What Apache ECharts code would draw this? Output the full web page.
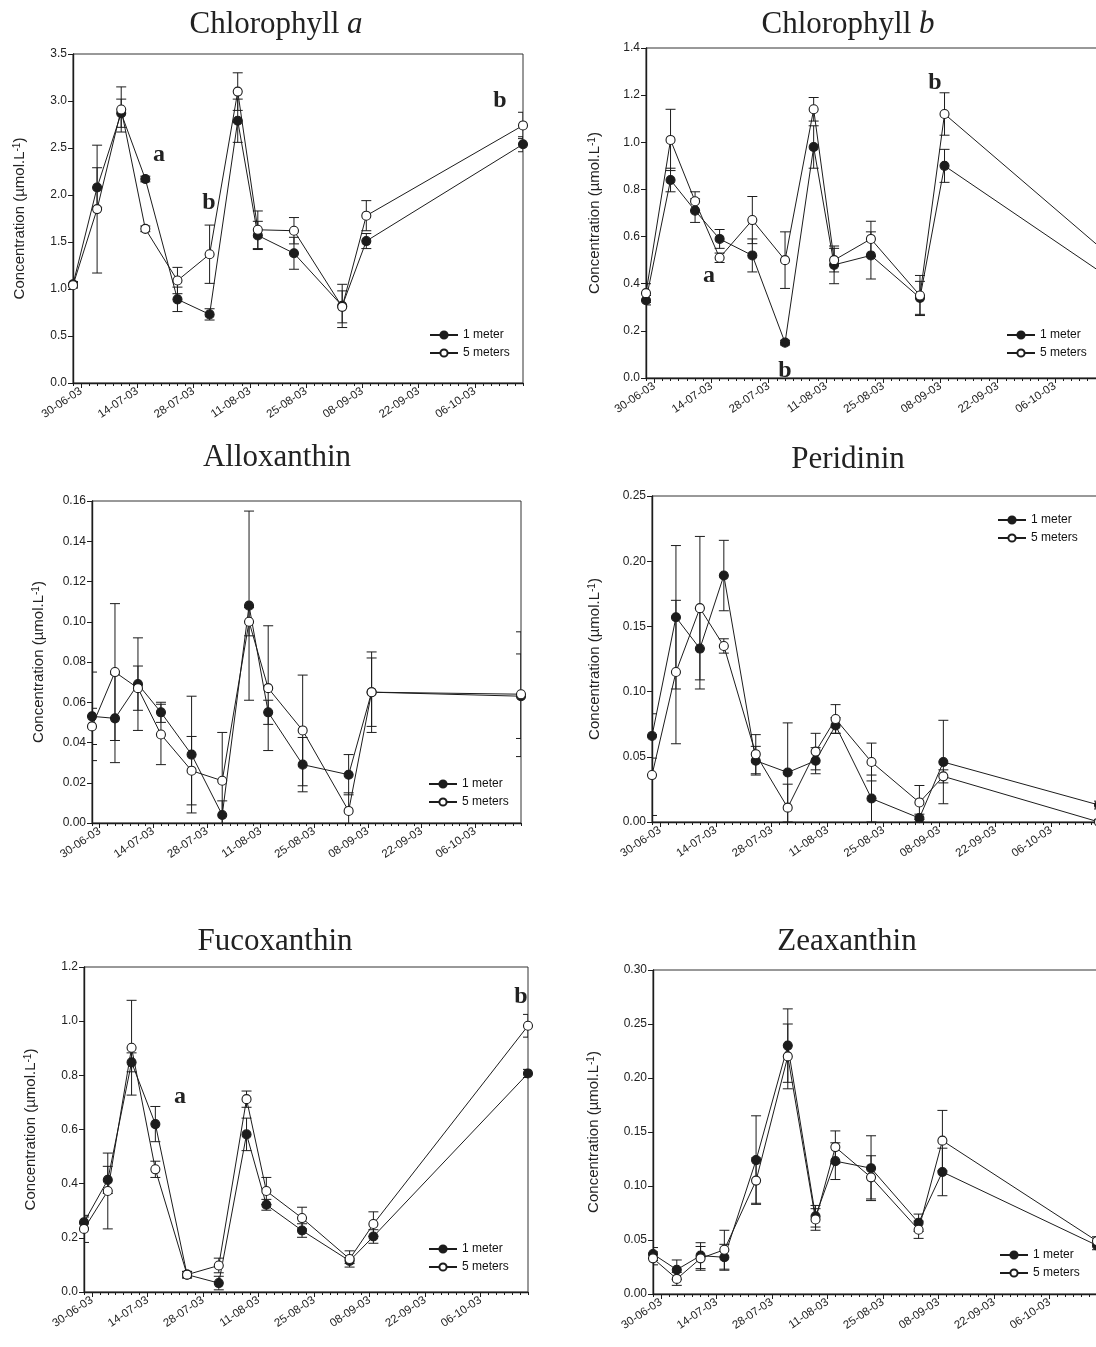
<!DOCTYPE html>
<html>
<head>
<meta charset="utf-8">
<title>Pigment concentrations, 2003</title>
<script src="https://cdn.jsdelivr.net/npm/echarts@6/dist/echarts.min.js"></script>
<style>
  html, body { margin: 0; padding: 0; background: #fff; overflow: hidden; }
  #chart { width: 1096px; height: 1347px; }
</style>
</head>
<body>
<div id="chart"></div>
<script>
// Sampling dates (dd-mm-yy on the axis)
const dates = ['2003-06-28', '2003-07-04', '2003-07-10', '2003-07-16', '2003-07-24', '2003-08-01',
               '2003-08-08', '2003-08-13', '2003-08-22', '2003-09-03', '2003-09-09', '2003-10-18'];
const tickDates = ['2003-06-30', '2003-07-14', '2003-07-28', '2003-08-11', '2003-08-25',
                   '2003-09-08', '2003-09-22', '2003-10-06'];
const axisStart = '2003-06-28';
const axisEnd = '2003-10-18';
const seriesNames = ['1 meter', '5 meters'];

// Chlorophyll a (µmol/L), mean and error
const chlA_1m    = [1.05, 2.08, 2.87, 2.17, 0.89, 0.73, 2.79, 1.57, 1.38, 0.82, 1.51, 2.54];
const chlA_1m_sd = [0.03, 0.21, 0.15, 0.03, 0.13, 0.06, 0.23, 0.15, 0.17, 0.23, 0.08, 0.08];
const chlA_5m    = [1.04, 1.85, 2.91, 1.64, 1.09, 1.37, 3.10, 1.63, 1.62, 0.81, 1.78, 2.74];
const chlA_5m_sd = [0.03, 0.68, 0.24, 0.03, 0.14, 0.31, 0.20, 0.20, 0.14, 0.17, 0.16, 0.14];

// Chlorophyll b
const chlB_1m    = [0.33, 0.84, 0.71, 0.59, 0.52, 0.15, 0.98, 0.48, 0.52, 0.34, 0.90, 0.44];
const chlB_1m_sd = [0.02, 0.05, 0.05, 0.04, 0.07, 0.01, 0.09, 0.08, 0.10, 0.07, 0.07, 0.03];
const chlB_5m    = [0.36, 1.01, 0.75, 0.51, 0.67, 0.50, 1.14, 0.50, 0.59, 0.35, 1.12, 0.54];
const chlB_5m_sd = [0.04, 0.13, 0.04, 0.02, 0.10, 0.12, 0.05, 0.05, 0.075, 0.085, 0.09, 0.03];

// Alloxanthin
const allo_1m    = [0.053, 0.052, 0.069, 0.055, 0.034, 0.004, 0.108, 0.055, 0.029, 0.024, 0.065, 0.063];
const allo_1m_sd = [0.022, 0.022, 0.023, 0.005, 0.029, 0.007, 0.047, 0.006, 0.0135, 0.010, 0.017, 0.021];
const allo_5m    = [0.048, 0.075, 0.067, 0.044, 0.026, 0.021, 0.100, 0.067, 0.046, 0.006, 0.065, 0.064];
const allo_5m_sd = [0.009, 0.034, 0.011, 0.015, 0.017, 0.024, 0.007, 0.031, 0.0275, 0.009, 0.020, 0.031];

// Peridinin
const peri_1m    = [0.066, 0.157, 0.133, 0.189, 0.047, 0.038, 0.047, 0.074, 0.018, 0.003, 0.046, 0.013];
const peri_1m_sd = [0.017, 0.055, 0.031, 0.027, 0.011, 0.038, 0.010, 0.006, 0.018, 0.003, 0.032, 0.003];
const peri_5m    = [0.036, 0.115, 0.164, 0.135, 0.052, 0.011, 0.054, 0.079, 0.046, 0.015, 0.035, 0.000];
const peri_5m_sd = [0.031, 0.055, 0.055, 0.0055, 0.015, 0.018, 0.014, 0.011, 0.0145, 0.013, 0.005, 0.002];

// Fucoxanthin
const fuco_1m    = [0.257, 0.414, 0.848, 0.620, 0.064, 0.033, 0.582, 0.322, 0.227, 0.115, 0.205, 0.807];
const fuco_1m_sd = [0.020, 0.050, 0.035, 0.065, 0.012, 0.025, 0.060, 0.020, 0.025, 0.010, 0.025, 0.015];
const fuco_5m    = [0.233, 0.373, 0.902, 0.453, 0.064, 0.098, 0.712, 0.373, 0.273, 0.122, 0.251, 0.983];
const fuco_5m_sd = [0.050, 0.140, 0.175, 0.030, 0.012, 0.027, 0.030, 0.050, 0.040, 0.030, 0.045, 0.042];

// Zeaxanthin
const zea_1m    = [0.037, 0.0225, 0.0355, 0.034, 0.124, 0.230, 0.072, 0.123, 0.1165, 0.066, 0.113, 0.045];
const zea_1m_sd = [0.006, 0.009, 0.012, 0.012, 0.041, 0.034, 0.010, 0.017, 0.030, 0.008, 0.022, 0.004];
const zea_5m    = [0.033, 0.014, 0.033, 0.041, 0.105, 0.220, 0.069, 0.136, 0.108, 0.0595, 0.142, 0.049];
const zea_5m_sd = [0.006, 0.006, 0.011, 0.018, 0.021, 0.030, 0.010, 0.015, 0.020, 0.008, 0.028, 0.004];

// Panel layout (pixel boxes, title and legend anchors)
const panels = [
  { title: 'Chlorophyll {i|a}', one: chlA_1m, oneSd: chlA_1m_sd, five: chlA_5m, fiveSd: chlA_5m_sd,
    yMax: 3.5, yStep: 0.5, dec: 1, box: { left: 73, top: 54, width: 450, height: 329 },
    titleAt: [276, 25], nameGap: 46, legendAt: [429, 329] },
  { title: 'Chlorophyll {i|b}', one: chlB_1m, oneSd: chlB_1m_sd, five: chlB_5m, fiveSd: chlB_5m_sd,
    yMax: 1.4, yStep: 0.2, dec: 1, box: { left: 646, top: 48, width: 458, height: 330 },
    titleAt: [848, 25], nameGap: 44, legendAt: [1006, 329] },
  { title: 'Alloxanthin', one: allo_1m, oneSd: allo_1m_sd, five: allo_5m, fiveSd: allo_5m_sd,
    yMax: 0.16, yStep: 0.02, dec: 2, box: { left: 92, top: 501, width: 429, height: 322 },
    titleAt: [277, 458], nameGap: 46, legendAt: [428, 778] },
  { title: 'Peridinin', one: peri_1m, oneSd: peri_1m_sd, five: peri_5m, fiveSd: peri_5m_sd,
    yMax: 0.25, yStep: 0.05, dec: 2, box: { left: 652, top: 496, width: 447, height: 326 },
    titleAt: [848, 460], nameGap: 50, legendAt: [997, 514] },
  { title: 'Fucoxanthin', one: fuco_1m, oneSd: fuco_1m_sd, five: fuco_5m, fiveSd: fuco_5m_sd,
    yMax: 1.2, yStep: 0.2, dec: 1, box: { left: 84, top: 967, width: 444, height: 325 },
    titleAt: [275, 942], nameGap: 46, legendAt: [428, 1243] },
  { title: 'Zeaxanthin', one: zea_1m, oneSd: zea_1m_sd, five: zea_5m, fiveSd: zea_5m_sd,
    yMax: 0.30, yStep: 0.05, dec: 2, box: { left: 653, top: 970, width: 444, height: 324 },
    titleAt: [847, 942], nameGap: 52, legendAt: [999, 1249] }
];

// Significance letters
const letters = [
  { text: 'a', at: [159, 155] }, { text: 'b', at: [209, 203] }, { text: 'b', at: [500, 101] },
  { text: 'a', at: [709, 276] }, { text: 'b', at: [935, 83] }, { text: 'b', at: [785, 371] },
  { text: 'a', at: [180, 1097] }, { text: 'b', at: [521, 997] }
];

const DAY = 86400000;
function ts(s) { const p = s.split('-').map(Number); return Date.UTC(p[0], p[1] - 1, p[2]); }
function fmtDate(v) {
  const d = new Date(v);
  const dd = String(d.getUTCDate()).padStart(2, '0');
  const mm = String(d.getUTCMonth() + 1).padStart(2, '0');
  const yy = String(d.getUTCFullYear()).slice(2);
  return dd + '-' + mm + '-' + yy;
}
const xMin = ts(axisStart), xMax = ts(axisEnd);
const majorTicks = tickDates.map(ts);
const minorTicks = [];
for (let t = xMin; t <= xMax; t += 2 * DAY) minorTicks.push(t);

const INK = '#1c1c1c';
const SANS = 'Liberation Sans, Arial, sans-serif';
const SERIF = 'Liberation Serif, Times New Roman, serif';

function errorBars(params, api) {
  const x = api.value(0), y = api.value(1), e = api.value(2);
  const hi = api.coord([x, y + e]);
  const lo = api.coord([x, y - e]);
  const hw = 5;
  const st = { stroke: INK, lineWidth: 1, fill: null };
  return {
    type: 'group',
    children: [
      { type: 'line', shape: { x1: hi[0], y1: hi[1], x2: lo[0], y2: lo[1] }, style: st },
      { type: 'line', shape: { x1: hi[0] - hw, y1: hi[1], x2: hi[0] + hw, y2: hi[1] }, style: st },
      { type: 'line', shape: { x1: lo[0] - hw, y1: lo[1], x2: lo[0] + hw, y2: lo[1] }, style: st }
    ]
  };
}

const grid = [], xAxis = [], yAxis = [], series = [], legend = [], graphic = [];

panels.forEach((p, i) => {
  grid.push(Object.assign({
    show: true, borderColor: '#333', borderWidth: 1, backgroundColor: 'transparent',
    containLabel: false, outerBoundsMode: 'none'
  }, p.box));

  // labelled major ticks
  xAxis.push({
    type: 'value', gridIndex: i, min: xMin, max: xMax, position: 'bottom',
    axisLine: { show: true, onZero: false, lineStyle: { color: INK, width: 1.4 } },
    axisTick: { show: true, customValues: majorTicks, length: 5, lineStyle: { color: INK, width: 1 } },
    axisLabel: { show: true, customValues: majorTicks, rotate: 34, margin: 7, fontSize: 11.5,
                 fontFamily: SANS, color: '#222', formatter: fmtDate },
    splitLine: { show: false }
  });
  // two-day minor ticks
  xAxis.push({
    type: 'value', gridIndex: i, min: xMin, max: xMax, position: 'bottom', offset: 0,
    axisLine: { show: false },
    axisTick: { show: true, customValues: minorTicks, length: 3, lineStyle: { color: INK, width: 1 } },
    axisLabel: { show: false },
    splitLine: { show: false }
  });

  yAxis.push({
    type: 'value', gridIndex: i, min: 0, max: p.yMax, interval: p.yStep,
    axisLine: { show: true, lineStyle: { color: INK, width: 1.4 } },
    axisTick: { show: true, length: 5, lineStyle: { color: INK, width: 1 } },
    axisLabel: { fontSize: 12, fontFamily: SANS, color: '#222', margin: 6,
                 formatter: v => v.toFixed(p.dec) },
    splitLine: { show: false },
    name: 'Concentration (µmol.L{sup|-1})',
    nameLocation: 'middle', nameRotate: 90, nameGap: p.nameGap,
    nameTextStyle: { fontSize: 15, fontFamily: SANS, color: '#222',
                     rich: { sup: { fontSize: 10, fontFamily: SANS, color: '#222', verticalAlign: 'top' } } }
  });

  const depth = [[p.one, p.oneSd, INK], [p.five, p.fiveSd, '#fff']];
  depth.forEach(([vals, sd], k) => {
    series.push({
      type: 'custom', name: 'sd ' + seriesNames[k] + ' ' + i,
      xAxisIndex: 2 * i, yAxisIndex: i, clip: true, silent: true, z: 1,
      renderItem: errorBars,
      encode: { x: 0, y: 1 },
      data: dates.map((d, j) => [ts(d), vals[j], sd[j]])
    });
  });
  depth.forEach(([vals, sd, fill], k) => {
    series.push({
      type: 'line', name: seriesNames[k],
      xAxisIndex: 2 * i, yAxisIndex: i, z: 3 + k,
      symbol: 'circle', symbolSize: 9, showAllSymbol: true,
      itemStyle: { color: fill, borderColor: INK, borderWidth: 1.1 },
      lineStyle: { color: INK, width: 1 },
      emphasis: { disabled: true },
      data: dates.map((d, j) => [ts(d), vals[j]])
    });
  });

  legend.push({
    data: seriesNames, orient: 'vertical', left: p.legendAt[0], top: p.legendAt[1],
    itemWidth: 28, itemHeight: 9, itemGap: 6, padding: 0, selectedMode: false,
    textStyle: { fontSize: 12, fontFamily: SANS, color: '#111', lineHeight: 12 }
  });

  graphic.push({
    type: 'text', x: p.titleAt[0], y: p.titleAt[1], silent: true,
    style: {
      text: p.title, fontFamily: SERIF, fontSize: 31, fill: '#222',
      align: 'center', verticalAlign: 'middle',
      rich: { i: { fontFamily: SERIF, fontSize: 31, fontStyle: 'italic', fill: '#222' } }
    }
  });
});

letters.forEach(l => {
  graphic.push({
    type: 'text', x: l.at[0], y: l.at[1], silent: true, z: 10,
    style: { text: l.text, fontFamily: SERIF, fontSize: 24, fontWeight: 'bold', fill: '#222',
             align: 'center', verticalAlign: 'middle' }
  });
});

const chart = echarts.init(document.getElementById('chart'), null, { renderer: 'canvas' });
chart.setOption({
  backgroundColor: '#fff',
  animation: false,
  grid, xAxis, yAxis, series, legend, graphic
});
</script>
</body>
</html>
